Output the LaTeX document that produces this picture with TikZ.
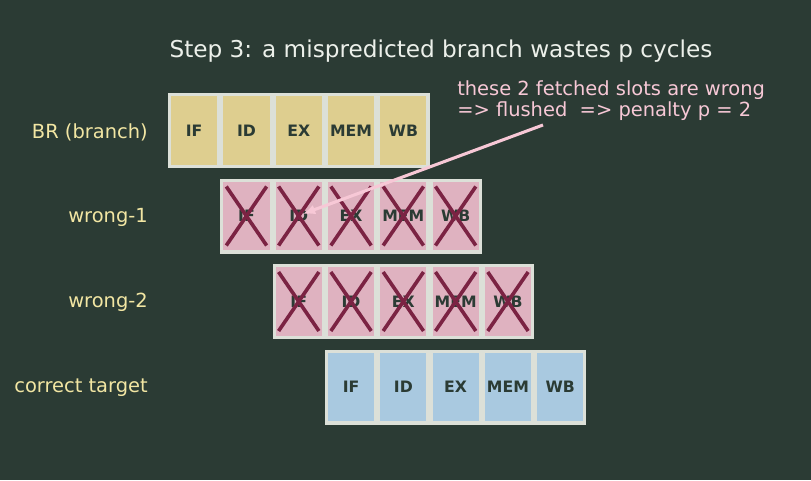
\documentclass[tikz,border=0pt]{standalone}
\usepackage{fontspec}
\setmainfont{DejaVu Sans}
\usepackage{xcolor}
\usetikzlibrary{arrows.meta, calc}

\definecolor{bgdark}{RGB}{43,59,52}
\definecolor{cellrim}{RGB}{220,224,216}
\definecolor{brfill}{RGB}{222,206,143}
\definecolor{wrongfill}{RGB}{223,178,192}
\definecolor{okfill}{RGB}{169,201,224}
\definecolor{crossred}{RGB}{123,35,67}
\definecolor{labyellow}{RGB}{242,230,163}
\definecolor{notepink}{RGB}{247,200,214}
\definecolor{titlewhite}{RGB}{236,240,234}

\begin{document}
\begin{tikzpicture}[x=0.72pt, y=-0.72pt,
  stage/.style={rectangle, draw=cellrim, line width=2.2pt, minimum width=35.5pt, minimum height=51.8pt, inner sep=0pt, text=bgdark, font=\fontsize{11.3}{13}\selectfont\bfseries},
  rowlab/.style={anchor=east, text=labyellow, inner sep=0pt, font=\fontsize{14}{17}\selectfont},
  xmark/.style={draw=crossred, line width=2.6pt},
  note/.style={anchor=north west, align=left, text=notepink, inner sep=0pt, font=\fontsize{14}{15.8}\selectfont},
  pointer/.style={-{Latex[length=9pt, width=7pt]}, draw=notepink, line width=2.2pt}
]
  \useasboundingbox[fill=bgdark] (0,0) rectangle (811,480);

  \node[text=titlewhite, font=\fontsize{16.7}{20}\selectfont] (title) at (441,51) {Step 3: a mispredicted branch wastes p cycles};

  % pipeline rows, each one cycle later
  \foreach \row/\shade [count=\r from 0] in {br/brfill, wrong1/wrongfill, wrong2/wrongfill, target/okfill} {
    \foreach \stg [count=\c from 0] in {IF,ID,EX,MEM,WB}
      \node[stage, fill=\shade] (\row-\c) at ({194.15+52.3*(\r+\c)}, {130.5+85.5*\r}) {\stg};
  }

  \node[rowlab] (br-lab)     at (148,132) {BR (branch)};
  \node[rowlab] (wrong1-lab) at (148,217) {wrong-1};
  \node[rowlab] (wrong2-lab) at (148,302) {wrong-2};
  \node[rowlab] (target-lab) at (148,388) {correct target};

  % flushed slots
  \foreach \row in {wrong1, wrong2}
    \foreach \c in {0,...,4} {
      \draw[xmark] ([shift={(6,8)}]\row-\c.north west) -- ([shift={(-6,-8)}]\row-\c.south east);
      \draw[xmark] ([shift={(-6,8)}]\row-\c.north east) -- ([shift={(6,-8)}]\row-\c.south west);
    }

  \node[note] (note) at (457,80) {these 2 fetched slots are wrong\\=> flushed\ \ => penalty p = 2};
  \coordinate (notefoot) at (543,125);
  \draw[pointer] (notefoot) -- ([shift={(4,-2)}]wrong1-1.center);
\end{tikzpicture}
\end{document}
